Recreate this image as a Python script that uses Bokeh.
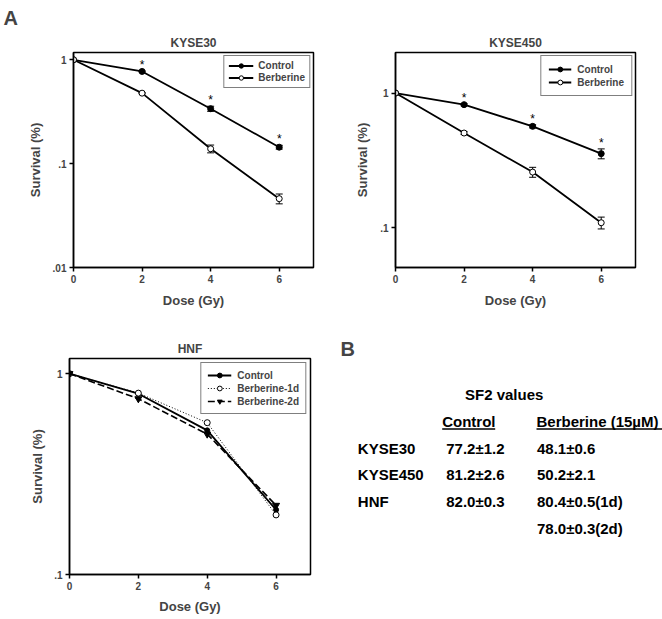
import numpy as np
from bokeh.plotting import figure
from bokeh.layouts import column, row
from bokeh.models import (Range1d, FixedTicker, CustomJSTickFormatter, Legend, LegendItem,
                          Whisker, ColumnDataSource, Title, TeeHead)
from bokeh.core.properties import value
from bokeh.embed import file_html
from bokeh.resources import INLINE

FONT = "Liberation Sans"

# ---------------- data ----------------
dose = [0, 2, 4, 6]
dose_ticks = [0, 2, 4, 6]

k30_control = [1.0, 0.772, 0.338, 0.144]
k30_control_err = [0.0, 0.010, 0.019, 0.006]
k30_berb = [1.0, 0.477, 0.139, 0.046]
k30_berb_err = [0.0, 0.006, 0.012, 0.005]

k450_control = [1.0, 0.820, 0.566, 0.355]
k450_control_err = [0.0, 0.015, 0.015, 0.030]
k450_berb = [1.0, 0.505, 0.259, 0.109]
k450_berb_err = [0.0, 0.012, 0.022, 0.011]

hnf_control = [1.0, 0.795, 0.522, 0.210]
hnf_berb1d = [1.0, 0.800, 0.570, 0.198]
hnf_berb2d = [1.0, 0.750, 0.500, 0.221]

sig_index = [1, 2, 3]  # points marked with *

k30_yticks = [0.01, 0.1, 1]
k450_yticks = [0.1, 1]
hnf_yticks = [0.1, 1]

table_title = "SF2 values"
table_headers = ["Control", "Berberine (15µM)"]
table_rows = ["KYSE30", "KYSE450", "HNF", ""]
table_control = ["77.2±1.2", "81.2±2.6", "82.0±0.3", ""]
table_berberine = ["48.1±0.6", "50.2±2.1", "80.4±0.5(1d)", "78.0±0.3(2d)"]

# ---------------- helpers ----------------
fmt = CustomJSTickFormatter(code="""
if (tick >= 1) { return String(Math.round(tick)); }
const s = String(Number(tick.toPrecision(3)));
return s.replace(/^0\\./, '.');
""")


def style_title(t, size="12px"):
    t.align = "center"
    t.text_font = FONT
    t.text_font_style = "bold"
    t.text_font_size = size
    t.standoff = 6


def make_plot(title, ylo, yhi, yticks, w, h, bl, bt, fw, fh, ax_standoff=7):
    p = figure(width=w, height=h, y_axis_type="log",
               x_range=Range1d(0, 7), y_range=Range1d(ylo, yhi),
               output_backend="svg", toolbar_location=None,
               min_border_left=bl, min_border_top=bt,
               min_border_right=w - bl - fw, min_border_bottom=h - bt - fh)
    if title:
        p.title.text = title
        style_title(p.title)
    p.grid.visible = False
    p.outline_line_color = "black"
    p.outline_line_width = 1.5
    p.background_fill_color = "white"
    p.border_fill_color = "white"
    p.xaxis.ticker = FixedTicker(ticks=dose_ticks)
    p.yaxis.ticker = FixedTicker(ticks=yticks)
    p.yaxis.formatter = fmt
    for ax in (p.xaxis[0], p.yaxis[0]):
        ax.axis_line_color = "black"
        ax.axis_line_width = 1.5
        ax.major_tick_line_color = "black"
        ax.major_tick_line_width = 1.5
        ax.major_tick_in = 0
        ax.major_tick_out = 4
        ax.minor_tick_line_color = None
        ax.major_label_text_font = FONT
        ax.major_label_text_font_style = "bold"
        ax.major_label_text_font_size = "10px"
        ax.major_label_standoff = 3
        ax.axis_label_text_font = FONT
        ax.axis_label_text_font_style = "bold"
        ax.axis_label_text_font_size = "13px"
        ax.axis_label_standoff = ax_standoff
    p.xaxis.axis_label = "Dose (Gy)"
    p.yaxis.axis_label = "Survival (%)"
    return p


def add_series(p, y, err, filled):
    ln = p.line(dose, y, line_color="black", line_width=1.8)
    up = [a + b for a, b in zip(y, err)]
    lo = [a - b for a, b in zip(y, err)]
    src = ColumnDataSource(dict(x=dose, upper=up, lower=lo))
    wk = Whisker(base="x", upper="upper", lower="lower", source=src,
                 line_color="black", line_width=1,
                 upper_head=TeeHead(size=7, line_color="black", line_width=1),
                 lower_head=TeeHead(size=7, line_color="black", line_width=1))
    p.add_layout(wk)
    sc = p.scatter(dose, y, size=6, marker="circle", line_color="black", line_width=1,
                   fill_color="black" if filled else "white")
    return ln, sc, up


def add_stars(p, up):
    xs = [dose[i] for i in sig_index]
    ys = [up[i] for i in sig_index]
    p.text(xs, ys, text=["*"] * len(xs), text_align="center", text_baseline="bottom",
           text_font=value(FONT), text_font_size="12px", y_offset=1, text_color="black")


def style_legend(leg, pad, gw, gh, standoff, fs, margin=3):
    leg.location = "top_right"
    leg.margin = margin
    leg.padding = pad
    leg.spacing = 1
    leg.glyph_width = gw
    leg.glyph_height = gh
    leg.label_height = gh
    leg.label_standoff = standoff
    leg.label_text_font = FONT
    leg.label_text_font_style = "bold"
    leg.label_text_font_size = fs
    leg.border_line_color = "black"
    leg.border_line_width = 1.5
    leg.background_fill_alpha = 1


def letter_title(t, letter, offset, standoff):
    t.text = letter
    t.align = "left"
    t.offset = offset
    t.standoff = standoff
    t.text_font = FONT
    t.text_font_style = "bold"
    t.text_font_size = "20px"


# ---------------- KYSE30 ----------------
p1 = make_plot(None, 0.01, 1.175, k30_yticks, 331, 310, 73, 52, 240, 215)
t1 = Title(text="KYSE30")
style_title(t1)
p1.add_layout(t1, "above")          # inner title, next to the frame
letter_title(p1.title, "A", -70, 4)  # outer title: panel letter
l1, s1, up1 = add_series(p1, k30_control, k30_control_err, True)
l2, s2, up2 = add_series(p1, k30_berb, k30_berb_err, False)
add_stars(p1, up1)
leg1 = Legend(items=[LegendItem(label="Control", renderers=[l1, s1]),
                     LegendItem(label="Berberine", renderers=[l2, s2])])
style_legend(leg1, 4, 25, 11, 5, "10px")
p1.add_layout(leg1)

# ---------------- KYSE450 ----------------
p2 = make_plot("KYSE450", 0.0507, 2.0, k450_yticks, 331, 310, 64, 52, 240, 215)
l3, s3, up3 = add_series(p2, k450_control, k450_control_err, True)
l4, s4, up4 = add_series(p2, k450_berb, k450_berb_err, False)
add_stars(p2, up3)
leg2 = Legend(items=[LegendItem(label="Control", renderers=[l3, s3]),
                     LegendItem(label="Berberine", renderers=[l4, s4])])
style_legend(leg2, 7, 23, 12, 6, "10px")
p2.add_layout(leg2)

# ---------------- HNF ----------------
ROW2_TOP = 310
HNF_BT, HNF_FH, HNF_H = 48, 216, 309
p3 = make_plot("HNF", 0.1, 1.19, hnf_yticks, 331, HNF_H, 69, HNF_BT, 241, HNF_FH, ax_standoff=6)
r1 = p3.line(dose, hnf_control, line_color="black", line_width=1.8)
m1 = p3.scatter(dose, hnf_control, size=5, marker="circle", color="black")
r2 = p3.line(dose, hnf_berb1d, line_color="black", line_width=1, line_dash="1 2")
m2 = p3.scatter(dose, hnf_berb1d, size=6, marker="circle", line_color="black", fill_color="white")
r3 = p3.line(dose, hnf_berb2d, line_color="black", line_width=1.6, line_dash="7 3")
m3 = p3.scatter(dose, hnf_berb2d, size=7, marker="inverted_triangle", color="black")
leg3 = Legend(items=[LegendItem(label="Control", renderers=[r1, m1]),
                     LegendItem(label="Berberine-1d", renderers=[r2, m2]),
                     LegendItem(label="Berberine-2d", renderers=[r3, m3])])
style_legend(leg3, 6, 24, 12, 6, "10px", margin=4)
p3.add_layout(leg3)

# ---------------- SF2 table ----------------
# the table's frame is aligned with the HNF frame by the row layout
row_y0_ref = 447.7
row_h = 26.67
frame_top = ROW2_TOP + HNF_BT
frame_bot = frame_top + HNF_FH
p4 = figure(width=331, height=HNF_H, output_backend="svg", toolbar_location=None,
            x_range=Range1d(331, 662),
            y_range=Range1d((frame_bot - row_y0_ref) / row_h, (frame_top - row_y0_ref) / row_h),
            x_axis_location=None, y_axis_location=None,
            min_border_left=0, min_border_right=0,
            min_border_top=HNF_BT, min_border_bottom=HNF_H - HNF_BT - HNF_FH)
p4.grid.visible = False
p4.outline_line_color = None
letter_title(p4.title, "B", 9, -2)
rows_idx = list(range(len(table_rows)))
tf = value(FONT)
fs = "15px"
p4.text([503.7], [-2], text=[table_title], text_font=tf, text_font_style="bold",
        text_font_size=fs, text_align="center", text_baseline="middle")
head_x = [441.7, 536]
head_w = [53, 126]
p4.text(head_x, [-1, -1], text=table_headers, text_font=tf, text_font_style="bold",
        text_font_size=fs, text_baseline="middle")
p4.segment(x0=head_x, y0=[-1 + 0.28] * 2, x1=[a + b for a, b in zip(head_x, head_w)],
           y1=[-1 + 0.28] * 2, line_color="black", line_width=1.5)
p4.text([357.3] * len(rows_idx), rows_idx, text=table_rows, text_font=tf, text_font_style="bold",
        text_font_size=fs, text_baseline="middle")
p4.text([445.7] * len(rows_idx), rows_idx, text=table_control, text_font=tf, text_font_style="bold",
        text_font_size=fs, text_baseline="middle")
p4.text([536.5] * len(rows_idx), rows_idx, text=table_berberine, text_font=tf, text_font_style="bold",
        text_font_size=fs, text_baseline="middle")

layout = column(row(p1, p2), row(p3, p4))
open("out.html", "w").write(file_html(layout, INLINE))
